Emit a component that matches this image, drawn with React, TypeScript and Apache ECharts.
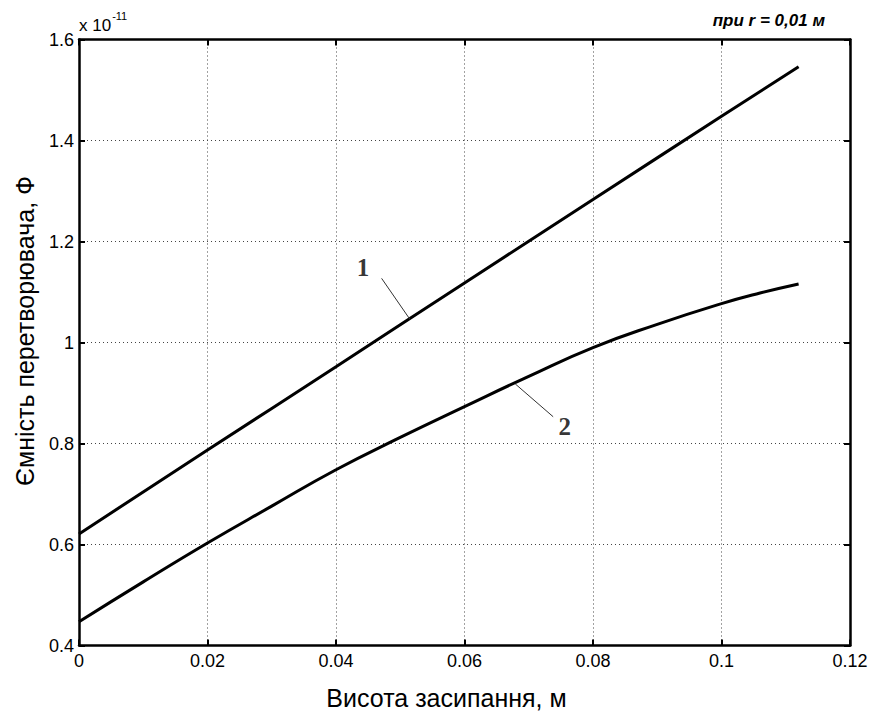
import React, { useEffect, useRef } from "react";
import * as echarts from "echarts";

const xTicks = [0, 0.02, 0.04, 0.06, 0.08, 0.1, 0.12];
const yTicks = [0.4, 0.6, 0.8, 1.0, 1.2, 1.4, 1.6];

// Curve 1 (x, capacitance ×1e-11 F)
const curve1X = [0, 0.02, 0.04, 0.06, 0.08, 0.1, 0.112];
const curve1Y = [0.621, 0.787, 0.952, 1.118, 1.283, 1.448, 1.546];

// Curve 2
const curve2X = [0, 0.01, 0.02, 0.03, 0.04, 0.05, 0.06, 0.07, 0.08, 0.09, 0.1, 0.106, 0.112];
const curve2Y = [0.447, 0.526, 0.603, 0.676, 0.748, 0.812, 0.873, 0.933, 0.99, 1.036, 1.077, 1.098, 1.116];

// Annotation leader lines and labels (data coords)
const leader1 = [[0.0471, 1.127], [0.0515, 1.046]];
const leader2 = [[0.0679, 0.918], [0.0738, 0.853]];
const label1 = [0.0442, 1.148];
const label2 = [0.0756, 0.833];

const fmt = (v: number) => String(parseFloat(v.toFixed(3)));
const SANS = "Liberation Sans, Arial, sans-serif";

export default function App() {
  const ref = useRef<HTMLDivElement>(null);
  useEffect(() => {
    if (!ref.current) return;
    const chart = echarts.init(ref.current, null, { renderer: "svg" });
    const axisFont = { fontFamily: SANS, fontSize: 18, color: "#000" };
    const grid = { left: 79, top: 39.5, right: 22, bottom: 69.5, show: false };
    const tickStyle = { show: true, inside: true, length: 6, lineStyle: { color: "#000", width: 2 } };
    const axisLine = { show: true, onZero: false, lineStyle: { color: "#000", width: 2.5 } };
    const split = { show: true, lineStyle: { color: "#444", width: 1, type: [1, 3] as any } };
    chart.setOption({
      animation: false,
      backgroundColor: "#fff",
      grid,
      xAxis: [
        {
          type: "value",
          min: xTicks[0],
          max: xTicks[xTicks.length - 1],
          interval: 0.02,
          position: "bottom",
          axisLine,
          axisTick: tickStyle,
          splitLine: split,
          axisLabel: { ...axisFont, margin: 6, formatter: (v: number) => fmt(v) },
        },
        {
          type: "value",
          min: xTicks[0],
          max: xTicks[xTicks.length - 1],
          interval: 0.02,
          position: "top",
          axisLine,
          axisTick: tickStyle,
          splitLine: { show: false },
          axisLabel: { show: false },
        },
      ],
      yAxis: [
        {
          type: "value",
          min: yTicks[0],
          max: yTicks[yTicks.length - 1],
          interval: 0.2,
          position: "left",
          axisLine,
          axisTick: tickStyle,
          splitLine: split,
          axisLabel: { ...axisFont, margin: 5, formatter: (v: number) => fmt(v) },
        },
        {
          type: "value",
          min: yTicks[0],
          max: yTicks[yTicks.length - 1],
          interval: 0.2,
          position: "right",
          axisLine,
          axisTick: tickStyle,
          splitLine: { show: false },
          axisLabel: { show: false },
        },
      ],
      graphic: [
        {
          type: "text",
          x: 446.5,
          y: 698,
          style: {
            text: "Висота засипання, м",
            fontFamily: SANS,
            fontSize: 25,
            fill: "#000",
            align: "center",
            verticalAlign: "middle",
          },
        },
        {
          type: "text",
          x: 25,
          y: 331,
          rotation: Math.PI / 2,
          style: {
            text: "Ємність перетворювача, Ф",
            fontFamily: SANS,
            fontSize: 25,
            fill: "#000",
            align: "center",
            verticalAlign: "middle",
          },
        },
        {
          type: "text",
          x: 79,
          y: 10,
          style: {
            text: "{a|x 10}{b|-11}",
            rich: {
              a: { fontFamily: SANS, fontSize: 17, fill: "#000", verticalAlign: "bottom", lineHeight: 24 },
              b: { fontFamily: SANS, fontSize: 11, fill: "#000", verticalAlign: "top", lineHeight: 24, padding: [0, 0, 10, 1] },
            },
          },
        },
        {
          type: "text",
          x: 825,
          y: 20,
          style: {
            text: "при r = 0,01 м",
            fontFamily: SANS,
            fontSize: 17,
            fontWeight: "bold",
            fontStyle: "italic",
            fill: "#000",
            align: "right",
            verticalAlign: "middle",
          },
        },
      ],
      series: [
        {
          type: "line",
          data: curve1X.map((x, i) => [x, curve1Y[i]]),
          showSymbol: false,
          smooth: true,
          lineStyle: { color: "#000", width: 3 },
        },
        {
          type: "line",
          data: curve2X.map((x, i) => [x, curve2Y[i]]),
          showSymbol: false,
          smooth: true,
          lineStyle: { color: "#000", width: 3 },
        },
        {
          type: "line",
          data: leader1,
          showSymbol: false,
          lineStyle: { color: "#333", width: 1 },
        },
        {
          type: "line",
          data: leader2,
          showSymbol: false,
          lineStyle: { color: "#333", width: 1 },
        },
        {
          type: "scatter",
          symbolSize: 0,
          silent: true,
          data: [
            { value: label1, name: "1" },
            { value: label2, name: "2" },
          ],
          label: {
            show: true,
            position: "inside",
            formatter: (p: any) => p.name,
            fontFamily: "Liberation Serif, Times New Roman, serif",
            fontWeight: "bold",
            fontSize: 25,
            color: "#000",
            textBorderWidth: 0,
          },
        },
      ],
    });
    return () => chart.dispose();
  }, []);
  return <div ref={ref} style={{ width: 872, height: 715, position: "absolute", left: 0, top: 0 }} />;
}
